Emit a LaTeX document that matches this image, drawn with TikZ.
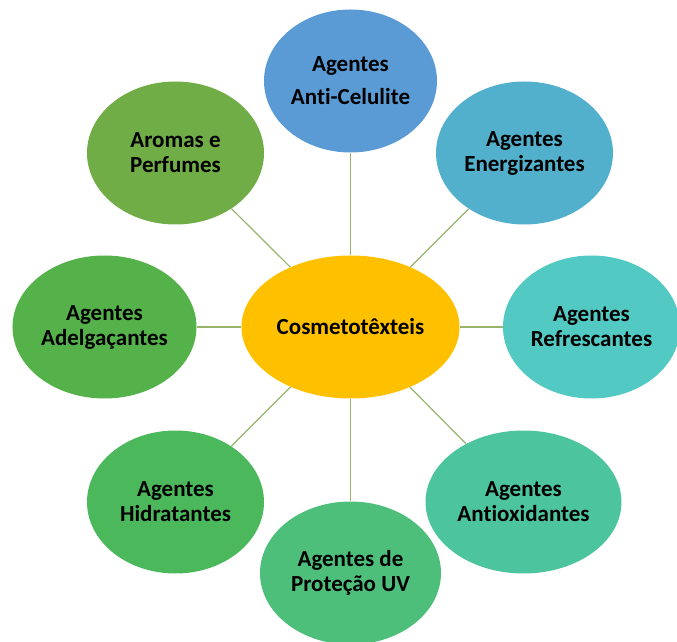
\documentclass[tikz,border=0pt]{standalone}
\usepackage{fontspec}
\setmainfont[Ligatures=NoCommon]{Carlito}
\usepackage{tikz}
\usetikzlibrary{shapes.geometric,positioning}

\definecolor{centro}{HTML}{FFC000}
\definecolor{celulite}{HTML}{5B9BD5}
\definecolor{energia}{HTML}{52B0CC}
\definecolor{fresco}{HTML}{52C9C3}
\definecolor{oxida}{HTML}{4CC59E}
\definecolor{protege}{HTML}{4DBF7B}
\definecolor{hidrata}{HTML}{4CB85C}
\definecolor{adelgaca}{HTML}{55B14A}
\definecolor{aroma}{HTML}{70AD47}
\definecolor{linha}{HTML}{97B56A}

\begin{document}
\begin{tikzpicture}[x=1pt, y=1pt, node distance=246pt, on grid, auto,
	bolha/.style={ellipse, inner sep=0pt, minimum width=177pt, minimum height=143pt,
		align=center, font=\fontsize{23}{25}\selectfont\bfseries},
	ligacao/.style={draw=linha, line width=1.2pt}]
	\useasboundingbox (-350.5,-315) rectangle (326.5,327);

	\node (0) [bolha, fill=centro, minimum width=218pt] {Cosmetotêxteis};
	\node (1) [bolha, fill=celulite, above=of 0, minimum width=173pt] {Agentes\\[8pt]Anti-Celulite};
	\node (2) [bolha, fill=energia, above right=174pt and 174pt of 0] {Agentes\\Energizantes};
	\node (3) [bolha, fill=fresco, right=of 0, xshift=-5pt] {Agentes\\Refrescantes};
	\node (4) [bolha, fill=oxida, below right=175pt and 173pt of 0, minimum width=196pt] {Agentes\\Antioxidantes};
	\node (5) [bolha, fill=protege, below=of 0, minimum width=181pt] {Agentes de\\Proteção UV};
	\node (6) [bolha, fill=hidrata, below left=175pt and 175pt of 0] {Agentes\\Hidratantes};
	\node (7) [bolha, fill=adelgaca, left=of 0, minimum width=184pt] {Agentes\\Adelgaçantes};
	\node (8) [bolha, fill=aroma, above left=174pt and 175pt of 0] {Aromas e\\Perfumes};

	\path[ligacao]
		(0) edge (1)
		(0) edge (2)
		(0) edge (3)
		(0) edge (4)
		(0) edge (5)
		(0) edge (6)
		(0) edge (7)
		(0) edge (8);
\end{tikzpicture}
\end{document}
